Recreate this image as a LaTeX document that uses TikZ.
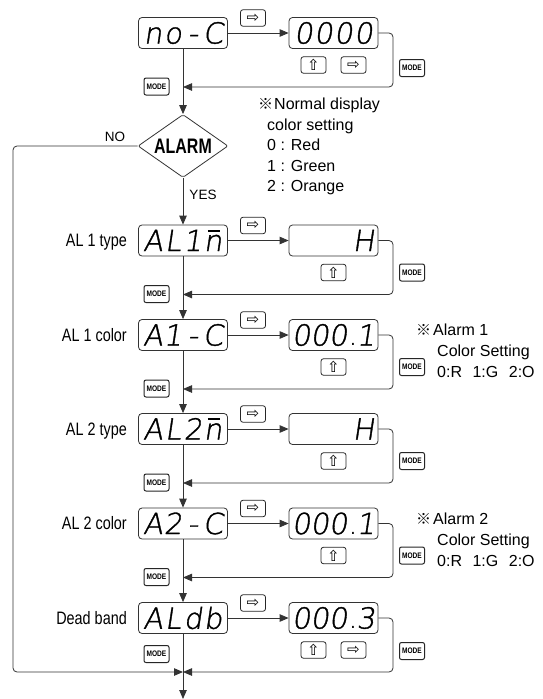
\documentclass[tikz,border=0pt]{standalone}
\usepackage{fontspec}
\usepackage{graphicx}
\setmainfont{Liberation Sans}
\newfontfamily\segfont{DejaVu Sans ExtraLight}[FakeSlant=0.15,FakeBold=1.2]
\newfontfamily\symfont{DejaVu Sans}
\newfontfamily\cjk{Noto Sans CJK JP}
\newfontfamily\narrowfont{Liberation Sans}[FakeStretch=0.8]
\newfontfamily\alarmfont{Liberation Sans}[FakeStretch=0.76]
\newfontfamily\modefam{Liberation Sans}[FakeStretch=0.82]
\usetikzlibrary{arrows.meta,shapes.geometric}

\newcommand\segcell[1]{\makebox[20pt]{#1}}
\newcommand\segd[4]{\segfont\fontsize{29}{29}\selectfont\vphantom{0}\segcell{#1}\segcell{#2}\segcell{#3}\segcell{#4}}
% display with a decimal point after the third digit
\newcommand\segdv[4]{\segfont\fontsize{29}{29}\selectfont\vphantom{0}\makebox[18.5pt]{#1}\makebox[18.5pt]{#2}\makebox[27pt][l]{#3\hspace{3pt}{\symfont\fontsize{17}{17}\selectfont .}}\makebox[19pt][r]{#4}}
\newcommand\segone{\hfill 1\hspace{1pt}}
\newcommand\barn{\rlap{\hspace{4pt}\raisebox{19.5pt}{\rule{12pt}{1.6pt}}}n}
\newcommand\refmark{{\cjk\fontsize{15}{15}\selectfont ※}}

\begin{document}
\begin{tikzpicture}[x=1pt,y=-1pt,
  ln/.style={draw=black!80, line width=0.8pt},
  arr/.style={ln, -{Triangle[length=9pt,width=7.5pt]}},
  disp/.style={draw=black!80, line width=0.8pt, rounded corners=3.5pt, minimum width=89pt, minimum height=31pt, inner sep=0pt},
  btn/.style={draw=black!85, line width=0.8pt, rounded corners=2.5pt, minimum width=25pt, minimum height=16.5pt, inner sep=0pt, font=\symfont\fontsize{15}{15}\selectfont},
  modebtn/.style={draw=black!85, line width=1pt, rounded corners=2pt, minimum width=25pt, minimum height=17pt, inner sep=0pt, font=\modefam\bfseries\fontsize{8}{8}\selectfont},
  lbl/.style={anchor=base east, inner sep=0pt, font=\narrowfont\fontsize{18}{18}\selectfont},
  note/.style={anchor=base west, inner sep=0pt, font=\fontsize{16}{16}\selectfont},
  yn/.style={anchor=base, inner sep=0pt, font=\fontsize{13.5}{13.5}\selectfont},
  dec/.style={diamond, aspect=1.4, draw=black!80, line width=0.8pt, rounded corners=2pt, minimum width=90pt, minimum height=63pt, inner sep=0pt, font=\alarmfont\bfseries\fontsize{21}{21}\selectfont}
]
\useasboundingbox (0,0) rectangle (543,699);
\path[fill=white] (0,0) rectangle (543,699);

% ---------- row 0 ----------
\node[disp] (d0) at (183,33) {\segd{n}{o}{-}{C}};
\node[disp] (v0) at (333.5,33) {\segd{0}{0}{0}{0}};
\node[btn] (b0) at (253,18) {⇨};
\node[btn] (u0) at (313.5,65) {⇧};
\node[btn] (s0) at (353.5,65) {⇨};
\node[modebtn] (mr0) at (412,68) {MODE};
\node[modebtn] (ml0) at (156.5,86.5) {MODE};
\coordinate (k0) at (393,87);
\coordinate (j0) at (183,87);
\draw[arr] (d0.east) -- (v0.west);
\draw[arr, rounded corners=4pt] (v0.east) -| (k0) -- (j0);

% notes
\node[note] (n1) at (258,109.7) {\refmark\hspace{1pt}Normal display};
\node[note] (n2) at (267,130.2) {color setting};
\node[note] (n3) at (267,150.7) {0 : Red};
\node[note] (n4) at (267,171.2) {1 : Green};
\node[note] (n5) at (267,191.7) {2 : Orange};

% ---------- decision ----------
\node[dec] (al) at (183,146) {ALARM};
\draw[arr] (d0.south) -- (al.north);
\node[yn] (no) at (115,141.6) {NO};
\node[yn] (yes) at (203,199.6) {YES};

% ---------- row 1 ----------
\node[disp] (d1) at (183,240.5) {\segd{A}{L}{\segone}{\barn}};
\node[disp] (v1) at (333.5,240.5) {\segd{}{}{}{H}};
\node[lbl] (l1) at (127,246.9) {AL 1 type};
\node[btn] (b1) at (253,225.5) {⇨};
\node[btn] (u1) at (333.5,272.5) {⇧};
\node[modebtn] (mr1) at (412,272.5) {MODE};
\node[modebtn] (ml1) at (156.5,294) {MODE};
\coordinate (k1) at (393,294.5);
\coordinate (j1) at (183,294.5);
\draw[arr] (al.south) -- (d1.north);
\draw[arr] (d1.east) -- (v1.west);
\draw[arr, rounded corners=4pt] (v1.east) -| (k1) -- (j1);

% ---------- row 2 ----------
\node[disp] (d2) at (183,335) {\segd{A}{\segone}{-}{C}};
\node[disp] (v2) at (333.5,335) {\segdv{0}{0}{0}{1}};
\node[lbl] (l2) at (127,341.4) {AL 1 color};
\node[btn] (b2) at (253,320) {⇨};
\node[btn] (u2) at (333.5,367) {⇧};
\node[modebtn] (mr2) at (412,367) {MODE};
\node[modebtn] (ml2) at (156.5,388.5) {MODE};
\coordinate (k2) at (393,389);
\coordinate (j2) at (183,389);
\draw[arr] (d1.south) -- (d2.north);
\draw[arr] (d2.east) -- (v2.west);
\draw[arr, rounded corners=4pt] (v2.east) -| (k2) -- (j2);
\node[note] (a1) at (416,335.7) {\refmark\hspace{2pt}Alarm 1};
\node[note] (a2) at (437,356.7) {Color Setting};
\node[note] (a3) at (437,377.7) {0:R\hspace{10.5pt}1:G\hspace{10.5pt}2:O};

% ---------- row 3 ----------
\node[disp] (d3) at (183,429) {\segd{A}{L}{2}{\barn}};
\node[disp] (v3) at (333.5,429) {\segd{}{}{}{H}};
\node[lbl] (l3) at (127,435.4) {AL 2 type};
\node[btn] (b3) at (253,414) {⇨};
\node[btn] (u3) at (333.5,461) {⇧};
\node[modebtn] (mr3) at (412,461) {MODE};
\node[modebtn] (ml3) at (156.5,482.5) {MODE};
\coordinate (k3) at (393,483);
\coordinate (j3) at (183,483);
\draw[arr] (d2.south) -- (d3.north);
\draw[arr] (d3.east) -- (v3.west);
\draw[arr, rounded corners=4pt] (v3.east) -| (k3) -- (j3);

% ---------- row 4 ----------
\node[disp] (d4) at (183,523.5) {\segd{A}{2}{-}{C}};
\node[disp] (v4) at (333.5,523.5) {\segdv{0}{0}{0}{1}};
\node[lbl] (l4) at (127,529.9) {AL 2 color};
\node[btn] (b4) at (253,508.5) {⇨};
\node[btn] (u4) at (333.5,555.5) {⇧};
\node[modebtn] (mr4) at (412,555.5) {MODE};
\node[modebtn] (ml4) at (156.5,577) {MODE};
\coordinate (k4) at (393,577.5);
\coordinate (j4) at (183,577.5);
\draw[arr] (d3.south) -- (d4.north);
\draw[arr] (d4.east) -- (v4.west);
\draw[arr, rounded corners=4pt] (v4.east) -| (k4) -- (j4);
\node[note] (c1) at (416,524.2) {\refmark\hspace{2pt}Alarm 2};
\node[note] (c2) at (437,545.2) {Color Setting};
\node[note] (c3) at (437,566.2) {0:R\hspace{10.5pt}1:G\hspace{10.5pt}2:O};

% ---------- row 5 ----------
\node[disp] (d5) at (183,618) {\segd{A}{L}{d}{b}};
\node[disp] (v5) at (333.5,618) {\segdv{0}{0}{0}{3}};
\node[lbl] (l5) at (127,624.4) {Dead band};
\node[btn] (b5) at (253,603) {⇨};
\node[btn] (u5) at (313.5,650) {⇧};
\node[btn] (s5) at (353.5,650) {⇨};
\node[modebtn] (mr5) at (412,651) {MODE};
\node[modebtn] (ml5) at (156.5,654) {MODE};
\coordinate (k5) at (393,672);
\coordinate (j5) at (183,672);
\draw[arr] (d4.south) -- (d5.north);
\draw[arr] (d5.east) -- (v5.west);
\draw[arr, rounded corners=4pt] (v5.east) -| (k5) -- (j5);

% NO branch
\coordinate (nt) at (13,146);
\coordinate (nb) at (13,672);
\draw[arr, rounded corners=4pt] (al.west) -- (nt) -- (nb) -- (j5);

% exit
\coordinate (ex) at (183,699);
\draw[arr] (d5.south) -- (ex);
\end{tikzpicture}
\end{document}
